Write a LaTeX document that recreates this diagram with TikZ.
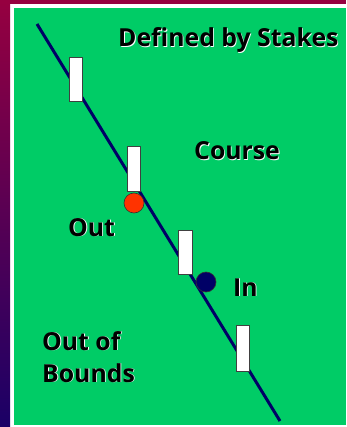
\documentclass[tikz,border=0pt]{standalone}
\usepackage{fontspec}
\setmainfont{Open Sans}
\definecolor{fieldgreen}{RGB}{0,204,102}
\definecolor{navyline}{RGB}{0,0,102}
\definecolor{stripTop}{RGB}{150,0,64}
\definecolor{stripBot}{RGB}{26,0,102}
\definecolor{ballred}{RGB}{255,51,0}
\tikzset{
  lbl/.style={font=\bfseries\fontsize{24.8}{30}\selectfont, anchor=base west, inner sep=0pt, text=black},
  lblsh/.style={lbl, text=white},
  stake/.style={draw=black!75, fill=white, line width=0.8pt},
  ball/.style={circle, draw=black!80, line width=0.6pt, minimum size=20pt, inner sep=0pt},
}
\begin{document}
\begin{tikzpicture}[x=1pt,y=-1pt]
\useasboundingbox (0,0) rectangle (346,427);
% background frame
\fill[white] (0,0) rectangle (346,427);
\shade[top color=stripTop, bottom color=stripBot] (0,0) rectangle (10,427);
\fill[stripTop] (0,0) rectangle (346,4);
\fill[fieldgreen] (14,8) rectangle (346,425);
% boundary line
\coordinate (lineA) at (37,24);
\coordinate (lineB) at (280,421);
\draw[navyline, line width=3pt] (lineA) -- (lineB);
% stakes
\draw[stake] (69,57) rectangle (82,101);
\draw[stake] (127,146) rectangle (140,191);
\draw[stake] (178,230) rectangle (192,274);
\draw[stake] (236,325) rectangle (249,371);
% balls
\node[ball, fill=ballred] (outball) at (134,203) {};
\node[ball, fill=navyline] (inball) at (206,282) {};
% labels
\node[lblsh] (t1s) at (118.8,47.8) {Defined by Stakes};
\node[lbl] (t1) at (118,47) {Defined by Stakes};
\node[lblsh] (t2s) at (194.8,160.8) {Course};
\node[lbl] (t2) at (194,160) {Course};
\node[lblsh] (t3s) at (68.8,236.8) {Out};
\node[lbl] (t3) at (68,236) {Out};
\node[lblsh] (t4s) at (233.8,296.8) {In};
\node[lbl] (t4) at (233,296) {In};
\node[lblsh] (t5s) at (42.8,350.8) {Out of};
\node[lbl] (t5) at (42,350) {Out of};
\node[lblsh] (t6s) at (42.8,382.8) {Bounds};
\node[lbl] (t6) at (42,382) {Bounds};
\end{tikzpicture}
\end{document}
